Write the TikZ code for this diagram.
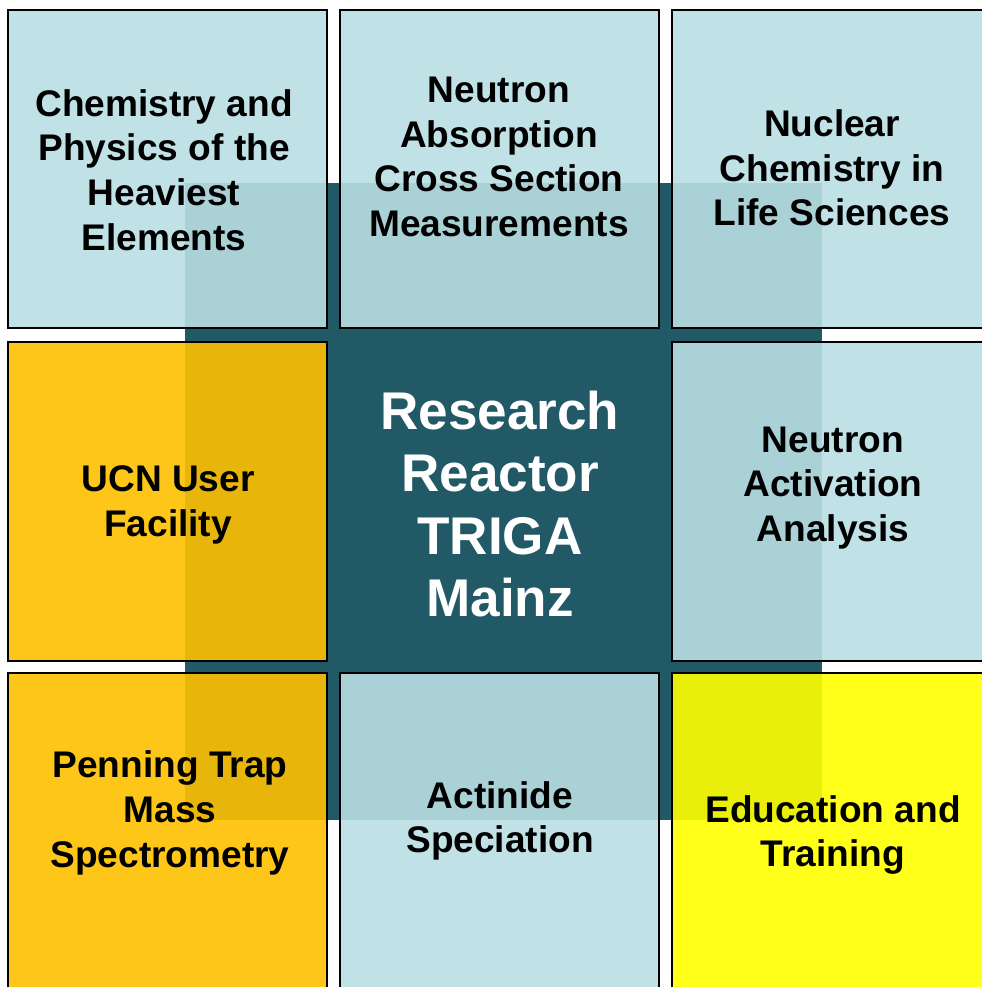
\documentclass[tikz,border=0pt]{standalone}
\usepackage{fontspec}
\setmainfont{Liberation Sans}
\definecolor{reactorteal}{RGB}{33,89,102}
\definecolor{paleblue}{RGB}{185,223,227}
\definecolor{gold}{RGB}{254,192,0}
\definecolor{brightyellow}{RGB}{255,255,0}

\begin{document}
\begin{tikzpicture}[x=0.02cm,y=-0.02cm,
	tile/.style={draw=black,line width=1.1pt,fill opacity=0.9},
	topic/.style={align=center,text=black,font=\bfseries\fontsize{21.1}{25.4}\selectfont},
	hub/.style={align=center,text=white,font=\bfseries\fontsize{30.2}{35.6}\selectfont}]
	\useasboundingbox (0,0) rectangle (982,987);
	\clip (0,0) rectangle (982,987);
	% reactor square behind the tiles
	\fill[reactorteal] (185,183) rectangle (822,820);
	% top row
	\draw[tile,fill=paleblue] (8,10) rectangle (327,328);
	\draw[tile,fill=paleblue] (340,10) rectangle (659,328);
	\draw[tile,fill=paleblue] (672,10) rectangle (995,328);
	% middle row
	\draw[tile,fill=gold] (8,342) rectangle (327,661);
	\draw[tile,fill=paleblue] (672,342) rectangle (995,661);
	% bottom row
	\draw[tile,fill=gold] (8,673) rectangle (327,995);
	\draw[tile,fill=paleblue] (340,673) rectangle (659,995);
	\draw[tile,fill=brightyellow] (672,673) rectangle (995,995);
	% texts
	\node[topic] (heavy) at (164,170) {Chemistry and\\Physics of the\\Heaviest\\Elements};
	\node[topic] (cross) at (499,157) {Neutron\\Absorption\\Cross Section\\Measurements};
	\node[topic] (life) at (832,168) {Nuclear\\Chemistry in\\Life Sciences};
	\node[topic] (ucn) at (168,505) {UCN User\\Facility};
	\node[hub] (reactor) at (500,504) {Research\\Reactor\\TRIGA\\Mainz};
	\node[topic] (naa) at (833,488) {Neutron\\Activation\\Analysis};
	\node[topic] (penning) at (170,813) {Penning Trap\\Mass\\Spectrometry};
	\node[topic] (actinide) at (500,821) {Actinide\\Speciation};
	\node[topic] (education) at (833,835) {Education and\\Training};
\end{tikzpicture}
\end{document}
